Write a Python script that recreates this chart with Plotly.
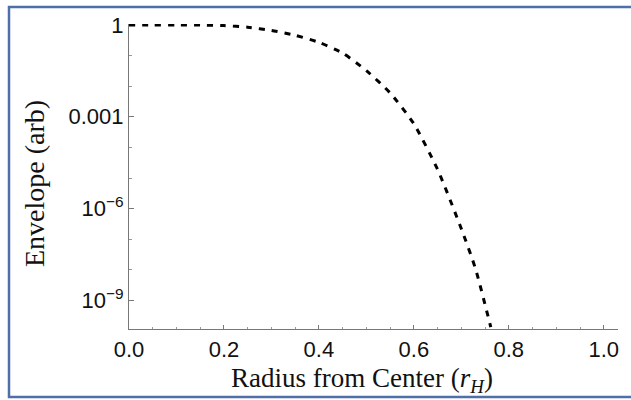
import plotly.graph_objects as go

# Data
radius = [0.0, 0.05, 0.10, 0.15, 0.20, 0.25, 0.30, 0.35, 0.40, 0.45, 0.50,
          0.55, 0.60, 0.65, 0.70, 0.73, 0.762]
envelope = [1.0, 1.0, 0.997, 0.985, 0.95, 0.84, 0.66, 0.46, 0.27, 0.12, 0.032,
            6.0e-3, 5.9e-4, 1.9e-5, 2.2e-7, 1.07e-8, 1.35e-10]

x_ticks = [0.0, 0.2, 0.4, 0.6, 0.8, 1.0]
x_ticktext = ["0.0", "0.2", "0.4", "0.6", "0.8", "1.0"]
y_ticks = [1e-9, 1e-6, 1e-3, 1]
y_ticktext = ["10<sup>\u22129</sup>", "10<sup>\u22126</sup>", "0.001", "1"]
y_minor = [10.0 ** (-k) for k in range(0, 10)]

W, H = 631, 400
L, R, T, B = 129, 13, 24, 71

fig = go.Figure()
fig.add_trace(go.Scatter(
    x=radius, y=envelope, mode="lines",
    line=dict(color="black", width=3, dash="6px,7px", shape="spline", smoothing=0.6),
    showlegend=False, hoverinfo="skip",
))

tick_font = dict(family="Liberation Sans, Arial, sans-serif", size=22, color="#111")
fig.update_xaxes(
    range=[0, 1.03], tickvals=x_ticks, ticktext=x_ticktext,
    showgrid=False, zeroline=False, showline=True, linecolor="#777", linewidth=1.2,
    ticks="inside", ticklen=4, tickcolor="#777", tickfont=tick_font,
    minor=dict(dtick=0.05, ticks="inside", ticklen=2, tickcolor="#999"),
)
fig.update_yaxes(
    type="log", range=[-9.93, 0.03], tickvals=y_ticks, ticktext=y_ticktext,
    showgrid=False, zeroline=False, showline=True, linecolor="#777", linewidth=1.2,
    ticks="inside", ticklen=5, tickcolor="#777", tickfont=tick_font,
    minor=dict(tickvals=y_minor, ticks="inside", ticklen=3, tickcolor="#999"),
)

pw = W - L - R
ph = H - T - B
def px_x(p):
    return (p - L) / pw
def px_y(p):
    return (H - B - p) / ph

title_font = dict(family="Liberation Serif, Times New Roman, serif", size=27, color="#111")
fig.add_annotation(
    xref="paper", yref="paper", x=px_x(362), y=px_y(380),
    text="Radius from Center (<i>r<sub>H</sub></i>)", showarrow=False,
    font=title_font, xanchor="center", yanchor="middle",
)
fig.add_annotation(
    xref="paper", yref="paper", x=px_x(34), y=px_y(184),
    text="Envelope (arb)", showarrow=False, textangle=-90,
    font=dict(family="Liberation Serif, Times New Roman, serif", size=28, color="#111"),
    xanchor="center", yanchor="middle",
)

# outer blue frame
fig.add_shape(
    type="rect", xref="paper", yref="paper",
    x0=px_x(9), x1=px_x(640), y0=px_y(397), y1=px_y(7),
    line=dict(color="#4f6fa8", width=2.5), fillcolor="rgba(0,0,0,0)",
)

fig.update_layout(
    width=W, height=H,
    margin=dict(l=L, r=R, t=T, b=B),
    paper_bgcolor="white", plot_bgcolor="white",
)

fig.write_html("out.html")
